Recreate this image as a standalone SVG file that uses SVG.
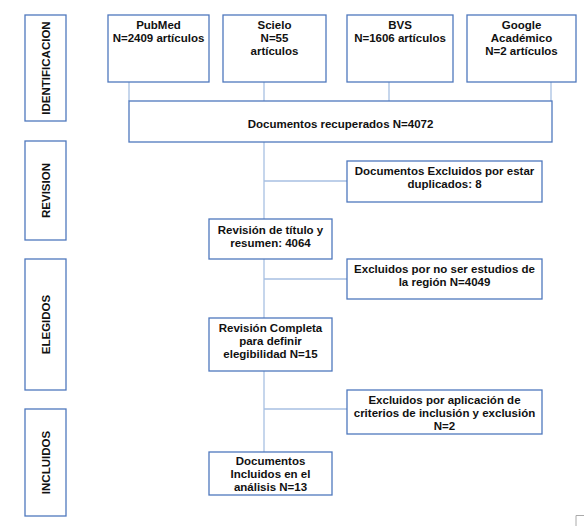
<svg xmlns="http://www.w3.org/2000/svg" width="584" height="526" viewBox="0 0 584 526">
<style>
.box{fill:#fff;stroke:#4f78bd;stroke-width:1.3}
.t{font-family:"Liberation Sans",Arial,sans-serif;font-weight:bold;font-size:11.5px;fill:#111;text-anchor:middle}
.c{stroke:#a8c0e2;stroke-width:1.3;fill:none}
</style>
<rect width="584" height="526" fill="#fff"/>
<g id="connectors">
<path class="c" d="M129 82V101M264 82V101M389 82V101M551 82V101"/>
<path class="c" d="M264 142V219M264 181H347M264 259V318M264 279H347M264 371V452M264 409H347"/>
</g>
<g id="stage-identificacion"><rect class="box" x="25" y="15" width="41" height="106"/><text class="t" transform="translate(49.5 68) rotate(-90)">IDENTIFICACION</text></g>
<g id="stage-revision"><rect class="box" x="25" y="141" width="41" height="99"/><text class="t" transform="translate(49.5 190.5) rotate(-90)">REVISION</text></g>
<g id="stage-elegidos"><rect class="box" x="25" y="259" width="41" height="131"/><text class="t" transform="translate(49.5 324.5) rotate(-90)">ELEGIDOS</text></g>
<g id="stage-incluidos"><rect class="box" x="25" y="409" width="41" height="107"/><text class="t" transform="translate(49.5 462.5) rotate(-90)">INCLUIDOS</text></g>
<g id="pubmed"><rect class="box" x="108" y="15" width="101" height="67"/><text class="t" x="158.5" y="29">PubMed</text><text class="t" x="158.5" y="42">N=2409 artículos</text></g>
<g id="scielo"><rect class="box" x="223" y="15" width="103" height="67"/><text class="t" x="274.5" y="29">Scielo</text><text class="t" x="274.5" y="42">N=55</text><text class="t" x="274.5" y="55">artículos</text></g>
<g id="bvs"><rect class="box" x="347" y="15" width="106" height="67"/><text class="t" x="400" y="29">BVS</text><text class="t" x="400" y="42">N=1606 artículos</text></g>
<g id="google"><rect class="box" x="467" y="15" width="109" height="67"/><text class="t" x="521.5" y="29">Google</text><text class="t" x="521.5" y="42">Académico</text><text class="t" x="521.5" y="55">N=2 artículos</text></g>
<g id="recuperados"><rect class="box" x="129" y="101" width="423" height="41"/><text class="t" x="340.5" y="128">Documentos recuperados N=4072</text></g>
<g id="excl-duplicados"><rect class="box" x="347" y="161" width="195" height="41"/><text class="t" x="444.5" y="175">Documentos Excluidos por estar</text><text class="t" x="444.5" y="188">duplicados: 8</text></g>
<g id="revision-titulo"><rect class="box" x="209" y="219" width="123" height="40"/><text class="t" x="270.5" y="234">Revisión de título y</text><text class="t" x="270.5" y="247">resumen: 4064</text></g>
<g id="excl-region"><rect class="box" x="347" y="259" width="195" height="40"/><text class="t" x="444.5" y="273">Excluidos por no ser estudios de</text><text class="t" x="444.5" y="286">la región N=4049</text></g>
<g id="revision-completa"><rect class="box" x="209" y="318" width="123" height="53"/><text class="t" x="270.5" y="332">Revisión Completa</text><text class="t" x="270.5" y="345">para definir</text><text class="t" x="270.5" y="358">elegibilidad N=15</text></g>
<g id="excl-criterios"><rect class="box" x="347" y="390" width="195" height="44"/><text class="t" x="444.5" y="404">Excluidos por aplicación de</text><text class="t" x="444.5" y="417">criterios de inclusión y exclusión</text><text class="t" x="444.5" y="430">N=2</text></g>
<g id="incluidos"><rect class="box" x="209" y="452" width="123" height="43"/><text class="t" x="270.5" y="465">Documentos</text><text class="t" x="270.5" y="478">Incluidos en el</text><text class="t" x="270.5" y="491">análisis N=13</text></g>
<path d="M576 526V515.5H584" fill="none" stroke="#aaa" stroke-width="1"/>
</svg>
